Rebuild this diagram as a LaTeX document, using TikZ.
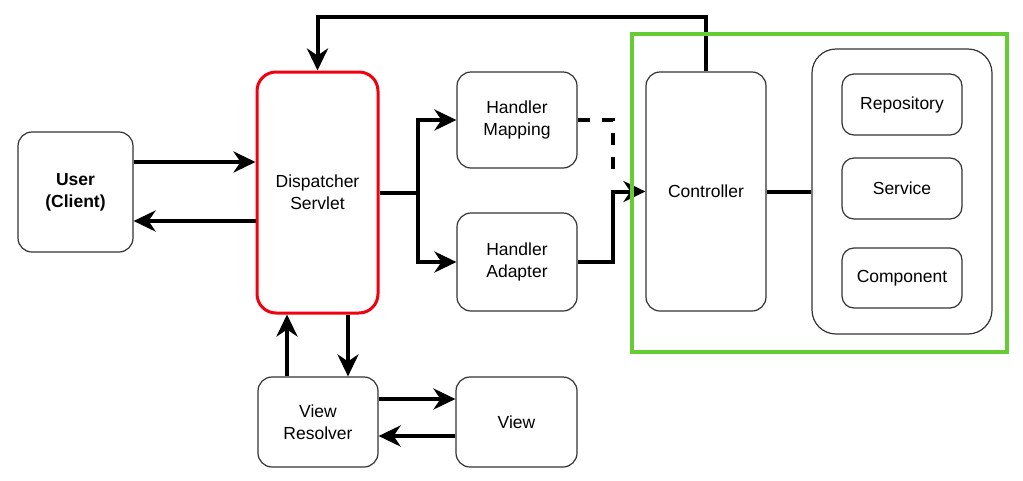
\documentclass[tikz,border=0pt]{standalone}
\usepackage{fontspec}
\setmainfont{Liberation Sans}
\usetikzlibrary{arrows.meta,positioning,calc}
\definecolor{boxline}{HTML}{333333}
\definecolor{dsred}{HTML}{F2000F}
\definecolor{grpgreen}{HTML}{66CC33}
\begin{document}
\begin{tikzpicture}[x=1pt,y=-1pt,
  every node/.style={font=\fontsize{17.5}{22}\selectfont, align=center, inner sep=0pt},
  box/.style={draw=boxline, line width=1.2pt, rounded corners=14pt, fill=white},
  conn/.style={line width=4pt, line cap=butt},
  arr/.style={conn, -{Stealth[length=22pt, width=21pt, inset=7pt]}},
  dashconn/.style={conn, dash pattern=on 12pt off 12pt}
]
\useasboundingbox (0,0) rectangle (1023,480);

% nodes
\node[box, minimum width=115pt, minimum height=120pt] (user) at (75.5,192) {\bfseries User\\\bfseries (Client)};
\node[box, draw=dsred, line width=3pt, rounded corners=19pt, minimum width=121pt, minimum height=241pt] (disp) at (317.5,192.5) {Dispatcher\\Servlet};
\node[box, minimum width=120pt, minimum height=96pt] (hm) at (517,120) {Handler\\Mapping};
\node[box, minimum width=120pt, minimum height=98pt] (ha) at (517,262) {Handler\\Adapter};
\node[box, minimum width=120pt, minimum height=239pt] (ctrl) at (706,191.5) {Controller};
\node[box, rounded corners=24pt, minimum width=180pt, minimum height=285pt] (grp) at (902,191.5) {};
\node[box, rounded corners=12pt, minimum width=120pt, minimum height=61pt] (repo) at (902,104.5) {Repository};
\node[box, rounded corners=12pt, minimum width=120pt, minimum height=61pt] (serv) at (902,188.5) {Service};
\node[box, rounded corners=12pt, minimum width=120pt, minimum height=60pt] (comp) at (902,278) {Component};
\node[box, minimum width=120pt, minimum height=90pt] (vr) at (318,422) {View\\Resolver};
\node[box, minimum width=121pt, minimum height=90pt] (view) at (516.5,422) {View};

% user <-> dispatcher
\coordinate (u1) at ([yshift=30pt]user.east);
\coordinate (u2) at ([yshift=-29pt]user.east);
\draw[arr] (u1) -- (u1 -| disp.west);
\draw[arr] (u2 -| disp.west) -- (u2);

% dispatcher -> handler mapping / adapter
\draw[arr] (disp.east) -- ++(38,0) |- (hm.west);
\draw[arr] (disp.east) -- ++(38,0) |- (ha.west);

% handlers -> controller
\coordinate (j) at ([xshift=35pt]ha.east |- ctrl.west);
\draw[dashconn] (hm.east) -| ([yshift=14pt]j);
\draw[conn] (ha.east) -| (j);
\draw[arr] ([xshift=-2pt]j) -- (ctrl.west);

% controller -> dispatcher (top loop)
\draw[arr] (ctrl.north) -- ++(0,-54) -| (disp.north);

% controller -- group
\draw[conn] (ctrl.east) -- (grp.west);

% dispatcher <-> view resolver
\coordinate (v1) at ([xshift=-31pt]vr.north);
\coordinate (v2) at ([xshift=30pt]vr.north);
\draw[arr] (v1) -- (v1 |- disp.south);
\draw[arr] (v2 |- disp.south) -- (v2);

% view resolver <-> view
\coordinate (w1) at ([yshift=23pt]vr.east);
\coordinate (w2) at ([yshift=-14pt]vr.east);
\draw[arr] (w1) -- (w1 -| view.west);
\draw[arr] (w2 -| view.west) -- (w2);

% green group frame
\node[draw=grpgreen, line width=4pt, minimum width=375pt, minimum height=318pt] (frame) at (819.5,193) {};
\end{tikzpicture}
\end{document}
